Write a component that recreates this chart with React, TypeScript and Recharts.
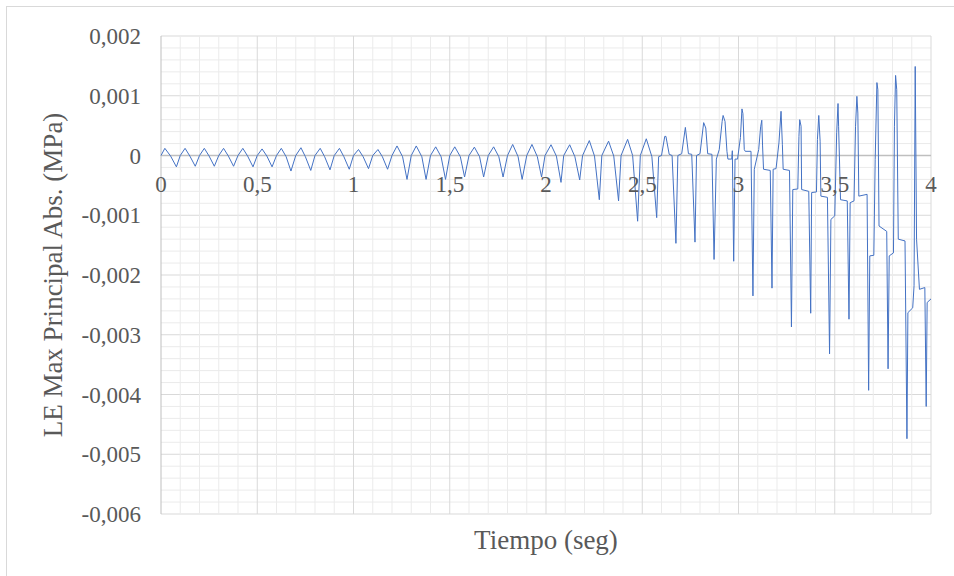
import { LineChart, Line, XAxis, YAxis, CartesianGrid, ReferenceLine, ReferenceDot } from 'recharts';

const FONT = '"Liberation Serif", "Times New Roman", serif';
const TEXT = '#595959';

// x axis (Tiempo, seg)
const xTicks = [0, 0.5, 1, 1.5, 2, 2.5, 3, 3.5, 4];
const xTickLabels = ['0', '0,5', '1', '1,5', '2', '2,5', '3', '3,5', '4'];
const xMinor = [
  0.1, 0.2, 0.3, 0.4, 0.6, 0.7, 0.8, 0.9, 1.1, 1.2, 1.3, 1.4, 1.6, 1.7, 1.8, 1.9,
  2.1, 2.2, 2.3, 2.4, 2.6, 2.7, 2.8, 2.9, 3.1, 3.2, 3.3, 3.4, 3.6, 3.7, 3.8, 3.9,
];
const xMajor = [0.5, 1, 1.5, 2, 2.5, 3, 3.5, 4];

// y axis (MPa)
const yTicks = [0.002, 0.001, 0, -0.001, -0.002, -0.003, -0.004, -0.005, -0.006];
const yMinor = [
  0.0018, 0.0016, 0.0014, 0.0012, 0.0008, 0.0006, 0.0004, 0.0002,
  -0.0002, -0.0004, -0.0006, -0.0008, -0.0012, -0.0014, -0.0016, -0.0018,
  -0.0022, -0.0024, -0.0026, -0.0028, -0.0032, -0.0034, -0.0036, -0.0038,
  -0.0042, -0.0044, -0.0046, -0.0048, -0.0052, -0.0054, -0.0056, -0.0058,
];

// [tiempo, tension], one second per block
const sec0 = [
  [0, 0], [0.02, 0.00012], [0.05, -0.00001], [0.08, -0.00019],
  [0.1, 0], [0.125, 0.00012], [0.15, -0.00001], [0.178, -0.00018],
  [0.2, 0], [0.225, 0.00012], [0.25, -0.00001], [0.277, -0.00018],
  [0.3, 0], [0.325, 0.00012], [0.35, -0.00001], [0.377, -0.00018],
  [0.4, 0], [0.425, 0.00012], [0.45, -0.00001], [0.478, -0.00019],
  [0.5, 0], [0.525, 0.00011], [0.55, -0.00001], [0.577, -0.00019],
  [0.6, 0], [0.625, 0.00012], [0.65, -0.00002], [0.675, -0.00026],
  [0.7, 0], [0.727, 0.00013], [0.75, -0.00002], [0.778, -0.00025],
  [0.8, 0], [0.827, 0.00012], [0.85, -0.00002], [0.878, -0.00024],
  [0.9, 0], [0.927, 0.00012], [0.95, -0.00002], [0.978, -0.00023],
];

const sec1 = [
  [1.0, 0], [1.026, 0.0001], [1.05, -0.00002], [1.078, -0.00022],
  [1.1, 0], [1.127, 0.0001], [1.15, -0.00002], [1.177, -0.00023],
  [1.2, 0], [1.226, 0.00016], [1.255, -0.00002], [1.278, -0.0004],
  [1.3, 0], [1.326, 0.00016], [1.355, -0.00002], [1.377, -0.0004],
  [1.4, 0], [1.427, 0.000145], [1.455, -0.00002], [1.478, -0.0004],
  [1.5, 0], [1.526, 0.000145], [1.555, -0.00002], [1.577, -0.00036],
  [1.6, 0], [1.628, 0.00014], [1.655, -0.00002], [1.676, -0.00036],
  [1.7, 0], [1.728, 0.000145], [1.755, -0.00002], [1.777, -0.00036],
  [1.8, 0], [1.827, 0.000185], [1.855, -0.00002], [1.876, -0.0004],
  [1.9, 0], [1.927, 0.000185], [1.955, -0.00002], [1.977, -0.00036],
];

const sec2 = [
  [1.995, 0], [2.026, 0.00018], [2.054, -0.00001], [2.078, -0.00045],
  [2.092, 0], [2.123, 0.00018], [2.15, -0.00002], [2.175, -0.00041],
  [2.19, 0], [2.225, 0.00025], [2.252, -0.00001], [2.277, -0.00074],
  [2.29, 0], [2.325, 0.00024], [2.352, -0.00001], [2.377, -0.00076],
  [2.39, 0], [2.424, 0.00027], [2.45, 0], [2.476, -0.0011],
  [2.49, 0], [2.521, 0.00028], [2.55, -0.00002], [2.575, -0.00104],
  [2.585, -0.00002], [2.6, 0], [2.617, 0.00032], [2.623, 0.00032], [2.64, 0.00002], [2.655, 0], [2.675, -0.00147],
  [2.685, 0], [2.705, 0.00003], [2.724, 0.00047], [2.74, 0.00003], [2.757, 0.00002], [2.774, -0.00145],
  [2.782, 0], [2.8, 0.00003], [2.819, 0.00055], [2.83, 0.00046], [2.84, 0.00003], [2.862, 0.00002], [2.873, -0.00174],
  [2.885, -0.00006], [2.9, 0.0001], [2.915, 0.00057], [2.92, 0.00067], [2.93, 0.00057], [2.94, 0.00007],
  [2.945, -0.00006], [2.965, -0.00006], [2.968, 0.00008], [2.975, -0.00177],
  [2.982, -0.00006], [2.995, -0.00006],
];

const sec3 = [
  [3.01, 0.0003], [3.018, 0.00078], [3.023, 0.0007], [3.03, 0.0001], [3.035, 0.00007], [3.065, 0.00007], [3.075, -0.00235],
  [3.082, -0.00023], [3.105, 0.0001], [3.115, 0.00048], [3.121, 0.00059], [3.125, 0.00016], [3.13, -0.00023], [3.165, -0.00025], [3.174, -0.00222],
  [3.18, -0.00023], [3.195, -0.00022], [3.21, 0.00021], [3.221, 0.00074], [3.228, 0.00018], [3.232, -0.00023], [3.265, -0.00025], [3.275, -0.00287],
  [3.282, -0.00057], [3.308, -0.00056], [3.314, 0.00032], [3.318, 0.0006], [3.325, 0.00049], [3.328, -0.00057], [3.365, -0.0006], [3.375, -0.00264],
  [3.38, -0.00062], [3.405, -0.00061], [3.41, 0.00027], [3.417, 0.00067], [3.424, 0.00024], [3.428, -0.00068], [3.462, -0.0007], [3.473, -0.00332],
  [3.48, -0.00107], [3.5, -0.00101], [3.51, 0.00038], [3.517, 0.00087], [3.52, 0.00049], [3.53, -0.00074], [3.565, -0.00076], [3.574, -0.00274],
  [3.58, -0.00079], [3.6, -0.00076], [3.608, 0.00049], [3.615, 0.00099], [3.62, 0.00071], [3.625, -0.00068], [3.668, -0.00065], [3.676, -0.00393],
  [3.682, -0.00168], [3.703, -0.00167], [3.71, -0.00007], [3.719, 0.00122], [3.724, 0.0011], [3.73, -0.00118], [3.77, -0.00127], [3.777, -0.00357],
  [3.783, -0.00168], [3.805, -0.00163], [3.81, 0.00049], [3.816, 0.00134], [3.822, 0.0011], [3.83, -0.0014], [3.865, -0.00143], [3.875, -0.00474],
  [3.88, -0.00263], [3.905, -0.00255], [3.912, -0.00218], [3.918, 0.00149], [3.925, -0.0014], [3.94, -0.00224], [3.968, -0.00221], [3.975, -0.0042],
  [3.98, -0.00246], [4.0, -0.0024],
];

const data = [...sec0, ...sec1, ...sec2, ...sec3].map(([t, v]) => ({ t, v }));

const fmtY = (v: number) => (v === 0 ? '0' : v.toFixed(3).replace('.', ','));

export default function App() {
  return (
    <div style={{ position: 'fixed', left: 0, top: 0, width: 954, height: 576, background: '#fff', overflow: 'hidden' }}>
      <div style={{ position: 'absolute', left: 6, top: 6, width: 980, height: 600, border: '1px solid #d9d9d9' }} />
      <div style={{ position: 'absolute', left: 0, top: 0 }}>
        <LineChart width={954} height={576} data={data} margin={{ top: 36, right: 23, bottom: 0, left: 0 }}>
          <CartesianGrid stroke="#ebebeb" vertical={false} horizontalValues={yMinor} />
          <CartesianGrid stroke="#d9d9d9" vertical={false} horizontalValues={yTicks} />
          <XAxis
            dataKey="t"
            type="number"
            domain={[0, 4]}
            ticks={xTicks}
            tick={false}
            tickLine={false}
            axisLine={false}
            height={62}
            label={{ value: 'Tiempo (seg)', position: 'center', dy: -6, fontSize: 27, fill: TEXT, fontFamily: FONT }}
          />
          <YAxis
            type="number"
            domain={[-0.006, 0.002]}
            ticks={yTicks}
            interval={0}
            width={161}
            tickLine={false}
            axisLine={false}
            tickMargin={14}
            tickFormatter={fmtY}
            tick={{ fontSize: 23, fill: TEXT, fontFamily: FONT }}
            label={{ value: 'LE Max Principal Abs. (MPa)', angle: -90, position: 'center', dx: -28, fontSize: 27, fill: TEXT, fontFamily: FONT }}
          />
          {xMinor.map((t) => (
            <ReferenceLine key={`m${t}`} x={t} stroke="#ebebeb" strokeWidth={1} />
          ))}
          {xMajor.map((t) => (
            <ReferenceLine key={`M${t}`} x={t} stroke="#d9d9d9" strokeWidth={1} />
          ))}
          <ReferenceLine y={0} stroke="#bfbfbf" strokeWidth={1.5} />
          <ReferenceLine x={0} stroke="#bfbfbf" strokeWidth={1} />
          <Line
            dataKey="v"
            type="linear"
            stroke="#4472c4"
            strokeWidth={1}
            dot={false}
            activeDot={false}
            isAnimationActive={false}
          />
          {xTicks.map((t, i) => (
            <ReferenceDot
              key={t}
              x={t}
              y={0}
              r={0}
              fill="none"
              stroke="none"
              label={{ value: xTickLabels[i], position: 'bottom', offset: 20, fontSize: 23, fill: TEXT, fontFamily: FONT }}
            />
          ))}
        </LineChart>
      </div>
    </div>
  );
}
